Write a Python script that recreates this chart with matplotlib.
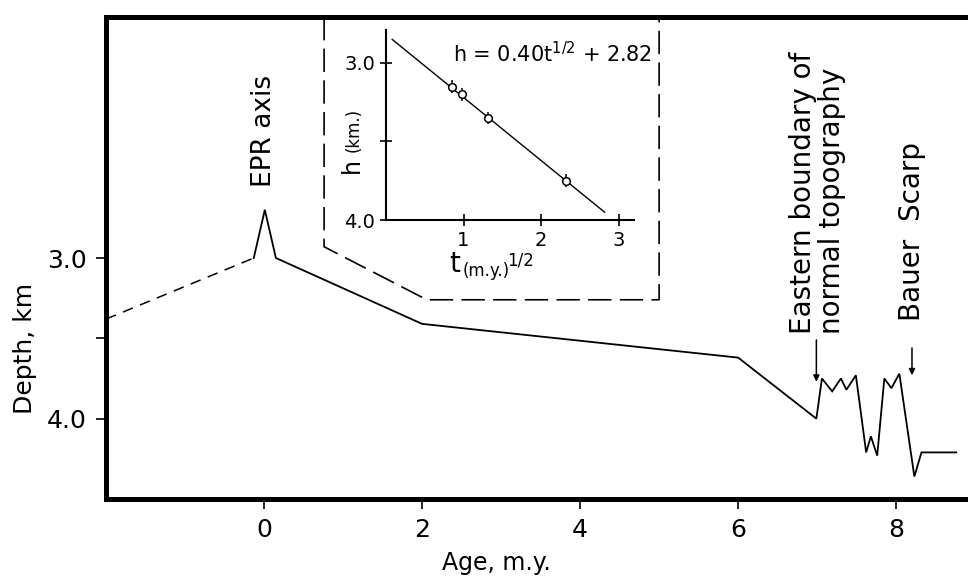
import matplotlib
matplotlib.use("Agg")
import matplotlib.pyplot as plt

plt.rcParams['font.family'] = ['DejaVu Sans']

# ---- main profile data (age in m.y., depth in km) ----
dashed_age = [-2.0, -0.13]
dashed_depth = [3.38, 3.0]

profile_age = [-0.13, 0.01, 0.15, 2.0, 6.0, 6.99, 7.06, 7.19, 7.30, 7.37,
               7.49, 7.62, 7.68, 7.76, 7.85, 7.94, 8.04, 8.23, 8.32, 8.76]
profile_depth = [3.0, 2.70, 3.0, 3.41, 3.62, 4.0, 3.75, 3.83, 3.75, 3.82,
                 3.73, 4.21, 4.11, 4.23, 3.75, 3.81, 3.72, 4.36, 4.21, 4.21]

x_ticks = [0, 2, 4, 6, 8]
x_ticklabels = ["0", "2", "4", "6", "8"]
y_ticks = [3.0, 3.5, 4.0]
y_ticklabels = ["3.0", "", "4.0"]

# ---- inset data ----
sqrt_t = [0.85, 0.98, 1.31, 2.32]
h_km = [3.15, 3.20, 3.35, 3.75]
h_err = [0.04, 0.04, 0.04, 0.04]
fit_t = [0.08, 2.82]
fit_h = [2.85, 3.95]
inset_x_ticks = [1, 2, 3]
inset_x_ticklabels = ["1", "2", "3"]
inset_y_ticks = [3.0, 3.5, 4.0]
inset_y_ticklabels = ["3.0", "", "4.0"]

# dashed frame linking inset to profile (main-axes data coords)
frame_age = [0.76, 0.76, 2.06, 5.0, 5.0]
frame_depth = [1.5, 2.93, 3.26, 3.26, 1.5]

W, H = 968, 581
fig = plt.figure(figsize=(W / 100, H / 100), dpi=100)

# main axes: left spine at px 106, bottom at 499, top at 17
ax = fig.add_axes([106 / W, (H - 499) / H, 885 / W, (499 - 17) / H])
ax.set_xlim(-2, 9.2)
ax.set_ylim(4.5, 1.5)

ax.plot(dashed_age, dashed_depth, color='k', lw=1.1, dashes=(7, 5))
ax.plot(profile_age, profile_depth, color='k', lw=1.3, solid_joinstyle='miter')
ax.plot(frame_age, frame_depth, color='k', lw=1.2, dashes=(14, 5), clip_on=False)

for s in ax.spines.values():
    s.set_linewidth(3.6)
ax.set_xticks(x_ticks)
ax.set_xticklabels(x_ticklabels)
ax.set_yticks(y_ticks)
ax.set_yticklabels(y_ticklabels)
ax.tick_params(axis='x', direction='out', length=7, width=1.2, pad=7, labelsize=18)
ax.tick_params(axis='y', direction='out', length=7, width=1.2, pad=7, labelsize=18)

ax.set_xlabel("Age, m.y.", fontsize=17)
ax.xaxis.set_label_coords(0.441, -0.108)
ax.set_ylabel("Depth, km", fontsize=18, ha='center', va='center')
ax.yaxis.set_label_coords(-0.0915, 0.313)

# annotations
ax.text(0.0, 2.56, "EPR axis", rotation=90, ha='center', va='bottom', fontsize=19)
ax.text(7.0, 3.47, "Eastern boundary of\nnormal topography", rotation=90,
        ha='center', va='bottom', fontsize=20, multialignment='left',
        linespacing=1.05)
ax.text(8.2, 3.39, "Bauer  Scarp", rotation=90, ha='center', va='bottom', fontsize=20)
ax.annotate('', xy=(6.99, 3.77), xytext=(6.99, 3.51),
            arrowprops=dict(arrowstyle='-|>', lw=1.1, color='k', mutation_scale=9,
                            shrinkA=0, shrinkB=0))
ax.annotate('', xy=(8.2, 3.73), xytext=(8.2, 3.56),
            arrowprops=dict(arrowstyle='-|>', lw=1.1, color='k', mutation_scale=9,
                            shrinkA=0, shrinkB=0))

# inset axes: x 386..634 px, y 30..220 px
ins = fig.add_axes([386 / W, (H - 220) / H, 248 / W, 190 / H])
ins.set_facecolor('none')
ins.set_xlim(0, 3.2)
ins.set_ylim(4.0, 2.79)
ins.plot(fit_t, fit_h, color='k', lw=1.0)
ins.errorbar(sqrt_t, h_km, yerr=h_err, fmt='o', mfc='white', mec='k', ecolor='k',
             ms=5.5, mew=1.1, elinewidth=1.1, capsize=0)
ins.spines['top'].set_visible(False)
ins.spines['right'].set_visible(False)
ins.spines['left'].set_linewidth(1.5)
ins.spines['bottom'].set_linewidth(1.5)
ins.set_xticks(inset_x_ticks)
ins.set_xticklabels(inset_x_ticklabels)
ins.set_yticks(inset_y_ticks)
ins.set_yticklabels(inset_y_ticklabels)
ins.tick_params(direction='inout', length=8, width=1.2, labelsize=14, pad=4)

ins.text(0.27, 0.832, r"h = 0.40t$^{\mathregular{1/2}}$ + 2.82", transform=ins.transAxes,
         ha='left', va='baseline', fontsize=15)
# inset x label: t (m.y.) 1/2
ins.text(0.255, -0.274, "t", transform=ins.transAxes, ha='left', va='baseline', fontsize=20)
ins.text(0.31, -0.295, "(m.y.)", transform=ins.transAxes, ha='left', va='baseline', fontsize=12)
ins.text(0.49, -0.242, "1/2", transform=ins.transAxes, ha='left', va='baseline', fontsize=12)
# inset y label: h (km.)
ins.text(-0.109, 0.247, "h", transform=ins.transAxes, rotation=90,
         rotation_mode='anchor', ha='left', va='baseline', fontsize=17)
ins.text(-0.109, 0.36, "(km.)", transform=ins.transAxes, rotation=90,
         rotation_mode='anchor', ha='left', va='baseline', fontsize=12)

fig.savefig("out.png", dpi=100)
